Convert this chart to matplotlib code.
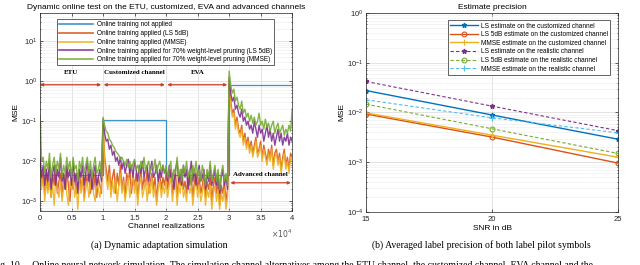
import numpy as np
import matplotlib
matplotlib.use('Agg')
import matplotlib.pyplot as plt
from matplotlib.ticker import FuncFormatter, LogLocator

# ---------- data: left panel (log10 MSE, one value every 250 realizations) ----------
step = 250
seg_names = ['ETU', 'Customized channel', 'EVA', 'Advanced channel']

ls5_online = [
    -2.0, -2.6, -2.3, -2.8, -2.2, -2.7, -2.4, -2.9, -2.3, -2.6,
    -2.1, -2.8, -2.5, -2.3, -2.9, -2.4, -2.7, -2.2, -2.6, -3.0,
    -2.4, -2.7, -2.3, -2.8, -2.5, -2.2, -2.7, -2.4, -2.9, -2.3,
    -2.6, -2.2, -2.8, -2.5, -2.7, -2.3, -2.9, -2.4, -2.6, -2.8,
    -1.05, -1.9, -2.2, -2.5, -2.1, -2.7, -2.4, -2.2, -2.8, -2.3,
    -2.6, -2.1, -2.7, -2.4, -2.9, -2.3, -2.5, -2.2, -2.8, -2.4,
    -2.6, -2.3, -2.9, -2.5, -2.2, -2.7, -2.4, -2.6, -2.2, -2.8,
    -2.5, -2.3, -2.7, -2.4, -3.0, -2.5, -2.3, -2.7, -2.4, -2.6,
    -2.3, -2.7, -2.4, -2.2, -2.8, -2.5, -2.3, -2.9, -2.4, -2.6,
    -2.2, -2.7, -2.5, -2.8, -2.3, -2.6, -2.4, -2.9, -2.5, -2.3,
    -2.7, -2.4, -2.8, -2.6, -2.3, -2.9, -2.5, -2.7, -2.4, -3.0,
    -2.6, -2.4, -2.8, -2.5, -3.1, -2.6, -2.8, -2.5, -3.0, -2.7,
    0.0, -0.5, -0.8, -0.7, -1.1, -0.9, -1.2, -1.3, -1.1, -1.5,
    -1.3, -1.6, -1.4, -1.7, -1.5, -1.8, -1.6, -1.4, -1.8, -1.7,
    -1.5, -1.9, -1.6, -1.8, -2.0, -1.7, -1.9, -1.6, -2.1, -1.8,
    -1.7, -2.0, -1.8, -2.2, -1.9, -1.7, -2.1, -1.9, -2.2, -1.8,
    -1.9]

mmse_online = [
    -2.2, -2.7, -2.4, -3.0, -2.5, -2.8, -2.3, -2.9, -2.6, -3.1,
    -2.4, -2.7, -2.9, -2.5, -3.0, -2.6, -2.3, -2.8, -3.1, -2.5,
    -2.7, -2.4, -2.9, -2.6, -3.2, -2.5, -2.8, -2.4, -3.0, -2.7,
    -2.5, -2.9, -2.6, -2.3, -2.8, -3.0, -2.5, -2.7, -2.9, -2.6,
    -1.1, -2.0, -2.4, -2.7, -2.3, -2.9, -2.5, -2.8, -2.4, -3.0,
    -2.6, -2.3, -2.8, -2.5, -3.0, -2.7, -2.4, -2.9, -2.6, -2.3,
    -2.8, -2.5, -3.1, -2.6, -2.4, -2.9, -2.7, -2.5, -3.0, -2.6,
    -2.8, -2.4, -2.9, -2.6, -3.1, -2.7, -2.5, -2.9, -2.6, -2.8,
    -2.5, -2.9, -2.6, -2.4, -3.0, -2.7, -2.5, -3.1, -2.6, -2.8,
    -2.4, -2.9, -2.7, -3.0, -2.5, -2.8, -2.6, -3.1, -2.7, -2.5,
    -2.9, -2.6, -3.0, -2.8, -2.5, -3.1, -2.7, -2.9, -2.6, -3.2,
    -2.8, -2.6, -3.0, -2.7, -3.2, -2.8, -3.0, -2.7, -3.2, -2.9,
    -0.1, -0.6, -0.9, -0.8, -1.2, -1.0, -1.3, -1.4, -1.2, -1.6,
    -1.4, -1.7, -1.5, -1.8, -1.6, -1.9, -1.7, -1.5, -1.9, -1.8,
    -1.6, -2.0, -1.7, -1.9, -2.1, -1.8, -2.0, -1.7, -2.2, -1.9,
    -1.8, -2.1, -1.9, -2.3, -2.0, -1.8, -2.2, -2.0, -2.3, -1.9,
    -2.0]

ls5_pruned = [
    -1.9, -2.4, -2.1, -2.6, -2.2, -2.5, -2.0, -2.7, -2.3, -2.1,
    -2.6, -2.2, -2.4, -1.9, -2.5, -2.3, -2.7, -2.1, -2.4, -2.2,
    -2.6, -2.0, -2.5, -2.3, -2.8, -2.2, -2.4, -2.1, -2.6, -2.3,
    -2.0, -2.5, -2.2, -2.7, -2.3, -2.1, -2.6, -2.4, -2.2, -2.5,
    -0.95, -1.3, -1.5, -1.45, -1.7, -1.6, -1.85, -1.75, -2.0, -1.9,
    -2.1, -1.9, -2.2, -2.0, -2.3, -2.1, -1.95, -2.3, -2.1, -2.4,
    -2.0, -2.2, -2.5, -2.1, -2.3, -2.0, -2.4, -2.2, -2.1, -2.5,
    -2.2, -2.0, -2.4, -2.3, -2.1, -2.5, -2.2, -2.4, -2.1, -2.3,
    -2.2, -2.5, -2.1, -2.4, -2.3, -2.7, -2.2, -2.0, -2.5, -2.3,
    -2.6, -2.1, -2.4, -2.2, -2.7, -2.3, -2.0, -2.5, -2.2, -2.6,
    -2.3, -2.1, -2.5, -2.4, -2.2, -2.7, -2.3, -2.5, -2.1, -2.6,
    -2.4, -2.2, -2.6, -2.3, -2.8, -2.4, -2.2, -2.6, -2.4, -2.7,
    0.1, -0.3, -0.5, -0.4, -0.7, -0.6, -0.8, -0.9, -0.7, -1.0,
    -0.9, -1.1, -1.0, -1.2, -1.1, -1.3, -1.0, -1.2, -1.4, -1.1,
    -1.3, -1.2, -1.5, -1.3, -1.1, -1.4, -1.2, -1.5, -1.3, -1.6,
    -1.4, -1.2, -1.5, -1.3, -1.6, -1.4, -1.5, -1.3, -1.6, -1.4,
    -1.5]

mmse_pruned = [
    -0.85, -2.0, -1.9, -2.3, -2.0, -2.2, -1.8, -2.4, -2.1, -1.9,
    -2.3, -2.0, -2.2, -1.8, -2.4, -2.1, -2.3, -1.9, -2.2, -2.0,
    -2.4, -1.9, -2.2, -2.1, -2.5, -2.0, -2.2, -1.9, -2.3, -2.1,
    -1.9, -2.3, -2.0, -2.4, -2.1, -1.9, -2.3, -2.2, -2.0, -2.4,
    -0.9, -1.1, -1.25, -1.3, -1.45, -1.5, -1.6, -1.65, -1.75, -1.8,
    -1.85, -1.95, -1.9, -2.0, -2.1, -1.95, -2.15, -2.0, -2.2, -2.05,
    -1.95, -2.2, -2.1, -2.3, -2.0, -2.15, -1.9, -2.25, -2.1, -2.0,
    -2.3, -2.1, -2.2, -1.95, -2.3, -2.1, -2.0, -2.25, -2.1, -2.3,
    -2.1, -2.4, -2.2, -2.0, -2.5, -2.2, -2.3, -1.9, -2.4, -2.2,
    -2.5, -2.1, -2.3, -2.0, -2.4, -2.2, -2.6, -2.1, -2.3, -2.0,
    -2.4, -2.2, -2.5, -2.1, -2.3, -2.6, -2.2, -2.4, -2.0, -2.5,
    -2.3, -2.1, -2.5, -2.2, -2.7, -2.3, -2.1, -2.5, -2.3, -2.6,
    0.25, -0.1, -0.3, -0.2, -0.5, -0.4, -0.6, -0.7, -0.5, -0.8,
    -0.7, -0.9, -0.8, -1.0, -0.85, -1.05, -0.9, -1.1, -1.0, -0.8,
    -1.1, -1.0, -1.2, -0.95, -1.15, -1.05, -1.25, -1.1, -1.0, -1.3,
    -1.15, -1.05, -1.3, -1.2, -1.1, -1.35, -1.2, -1.3, -1.1, -1.25,
    -0.7]

# no online training: one constant MSE per channel segment
seg_edges = [0, 10000, 20000, 30000, 40000]
no_online = [4.5e-3, 0.105, 4.5e-3, 0.78]

# ---------- data: right panel ----------
snr = [15, 20, 25]
ls_cust = [0.0276, 0.0089, 0.0029]
ls5_cust = [0.0093, 0.0032, 0.00096]
mmse_cust = [0.0098, 0.0035, 0.00126]
ls_real = [0.042, 0.0134, 0.0043]
ls5_real = [0.0147, 0.0047, 0.0015]
mmse_real = [0.018, 0.0078, 0.0039]

# MATLAB default colours
c_blue, c_orange, c_yellow = '#0072BD', '#D95319', '#EDB120'
c_purple, c_green, c_cyan = '#7E2F8E', '#77AC30', '#4DBEEE'
c_arrow = '#C9402A'

plt.rcParams['font.family'] = ['Liberation Sans', 'DejaVu Sans']
plt.rcParams['axes.linewidth'] = 0.5
plt.rcParams['xtick.direction'] = 'in'
plt.rcParams['ytick.direction'] = 'in'
plt.rcParams['xtick.major.width'] = 0.5
plt.rcParams['ytick.major.width'] = 0.5
plt.rcParams['ytick.minor.width'] = 0.4
plt.rcParams['xtick.major.size'] = 2
plt.rcParams['ytick.major.size'] = 2
plt.rcParams['ytick.minor.size'] = 1
plt.rcParams['xtick.major.pad'] = 3
plt.rcParams['ytick.major.pad'] = 2
plt.rcParams['axes.edgecolor'] = '#262626'

fig = plt.figure(figsize=(6.4, 2.65), dpi=100)
ax1 = fig.add_axes([0.0625, 0.204, 0.394, 0.747])
ax2 = fig.add_axes([0.572, 0.2, 0.394, 0.751])


def style_axes(ax):
    ax.set_yscale('log')
    ax.grid(True, which='major', color='#d8d8d8', linewidth=0.5)
    ax.grid(True, which='minor', axis='y', color='#ececec', linewidth=0.4)
    ax.tick_params(labelsize=5.5, colors='#262626', top=True, right=True)
    ax.tick_params(which='minor', top=True, right=True)
    ax.set_axisbelow(True)


# ---------- left panel ----------
x = np.arange(len(ls5_online)) * step
bx, by = [], []
for i, v in enumerate(no_online):
    bx += [seg_edges[i], seg_edges[i + 1]]
    by += [v, v]
ax1.plot(bx, by, color=c_blue, lw=0.9, alpha=0.75, label='Online training not applied')
ax1.plot(x, 10 ** np.array(ls5_online), color=c_orange, lw=1.0, alpha=0.9,
         label='Online training applied (LS 5dB)')
ax1.plot(x, 10 ** np.array(mmse_online), color=c_yellow, lw=1.0, alpha=0.9,
         label='Online training applied (MMSE)')
ax1.plot(x, 10 ** np.array(ls5_pruned), color=c_purple, lw=1.0, alpha=0.9,
         label='Online training applied for 70% weight-level pruning (LS 5dB)')
ax1.plot(x, 10 ** np.array(mmse_pruned), color=c_green, lw=1.0, alpha=0.9,
         label='Online training applied for 70% weight-level pruning (MMSE)')

style_axes(ax1)
ax1.set_xlim(0, 40000)
ax1.set_ylim(10 ** -3.24, 10 ** 1.7)
ax1.set_xticks(np.arange(0, 40001, 5000))
ax1.xaxis.set_major_formatter(FuncFormatter(lambda v, p: f'{v / 1e4:g}'))
ax1.yaxis.set_major_locator(LogLocator(base=10, numticks=10))
ax1.text(1.0, -0.085, r'$\times10^4$', transform=ax1.transAxes, ha='right', va='top',
         fontsize=5.5, color='#555555')
ax1.set_xlabel('Channel realizations', fontsize=6, labelpad=1)
ax1.set_ylabel('MSE', fontsize=6, labelpad=1)
ax1.set_title('Dynamic online test on the ETU, customized, EVA and advanced channels',
              fontsize=6, pad=3)

leg1 = ax1.legend(loc='upper center', bbox_to_anchor=(0.498, 0.985), fontsize=4.7,
                  frameon=True, fancybox=False, edgecolor='#262626', framealpha=1,
                  handlelength=5.2, borderpad=0.3, labelspacing=0.28, handletextpad=0.6)
leg1.get_frame().set_linewidth(0.5)
for ln in leg1.get_lines():
    ln.set_linewidth(1.2)

# channel segment arrows and labels
arrow_y = 0.81
label_y = 1.45
spans = [(0, 9700), (10100, 19800), (20200, 29700)]
for (x0, x1), name in zip(spans, seg_names[:3]):
    ax1.annotate('', xy=(x0, arrow_y), xytext=(x1, arrow_y),
                 arrowprops=dict(arrowstyle='<|-|>', color=c_arrow, lw=0.9,
                                 mutation_scale=4, shrinkA=0, shrinkB=0))
    ax1.text((x0 + x1) / 2, label_y, name, ha='center', va='bottom', fontsize=5,
             fontweight='bold', family=['Liberation Serif', 'DejaVu Serif'])
ax1.annotate('', xy=(30200, 2.9e-3), xytext=(39800, 2.9e-3),
             arrowprops=dict(arrowstyle='<|-|>', color=c_arrow, lw=0.9,
                             mutation_scale=4, shrinkA=0, shrinkB=0))
ax1.text(35000, 4.0e-3, seg_names[3], ha='center', va='bottom', fontsize=5,
         fontweight='bold', family=['Liberation Serif', 'DejaVu Serif'])

# ---------- right panel ----------
ax2.plot(snr, ls_cust, '-*', color=c_blue, lw=1.0, ms=3.5,
         label='LS estimate on the customized channel')
ax2.plot(snr, ls5_cust, '-o', color=c_orange, lw=1.0, ms=3.5, mfc='none', mew=0.8,
         label='LS 5dB estimate on the customized channel')
ax2.plot(snr, mmse_cust, '-+', color=c_yellow, lw=1.0, ms=4, mew=0.8,
         label='MMSE estimate on the customized channel')
ax2.plot(snr, ls_real, '--*', color=c_purple, lw=0.8, ms=3.5, dashes=(3, 2),
         label='LS estimate on the realistic channel')
ax2.plot(snr, ls5_real, '--o', color=c_green, lw=0.8, ms=3.5, mfc='none', mew=0.8,
         dashes=(3, 2), label='LS 5dB estimate on the realistic channel')
ax2.plot(snr, mmse_real, '--+', color=c_cyan, lw=0.8, ms=4, mew=0.8, dashes=(3, 2),
         label='MMSE estimate on the realistic channel')

style_axes(ax2)
ax2.set_xlim(15, 25)
ax2.set_ylim(1e-4, 1)
ax2.set_xticks([15, 20, 25])
ax2.set_xlabel('SNR in dB', fontsize=6, labelpad=1)
ax2.set_ylabel('MSE', fontsize=6, labelpad=1)
ax2.set_title('Estimate precision', fontsize=6, pad=3)
leg2 = ax2.legend(loc='upper right', bbox_to_anchor=(0.982, 0.98), fontsize=4.7,
                  frameon=True, fancybox=False, edgecolor='#262626', framealpha=1,
                  handlelength=4.2, borderpad=0.35, labelspacing=0.25, handletextpad=0.5)
leg2.get_frame().set_linewidth(0.5)

# ---------- captions ----------
serif = ['Liberation Serif', 'DejaVu Serif']
fig.text(0.249, 0.075, '(a) Dynamic adaptation simulation', ha='center', va='center',
         fontsize=7, family=serif)
fig.text(0.752, 0.075, '(b) Averaged label precision of both label pilot symbols',
         ha='center', va='center', fontsize=7, family=serif)
fig.text(-0.012, 0.0, 'Fig. 10.    Online neural network simulation. The simulation channel '
         'alternatives among the ETU channel, the customized channel, EVA channel and the',
         ha='left', va='center', fontsize=7, family=serif)

fig.savefig('out.png', dpi=100)
